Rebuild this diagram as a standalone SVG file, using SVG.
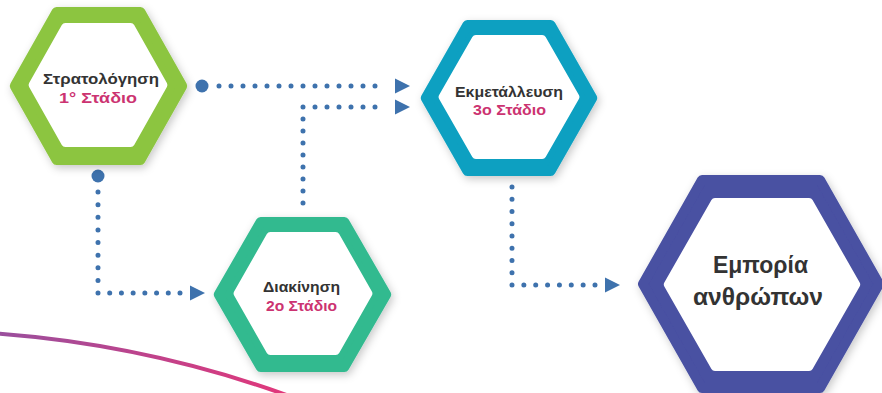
<svg xmlns="http://www.w3.org/2000/svg" width="882" height="393" viewBox="0 0 882 393">
  <defs>
    <filter id="sh" x="-20%" y="-20%" width="140%" height="140%">
      <feDropShadow dx="2" dy="3" stdDeviation="4" flood-color="#000" flood-opacity="0.22"/>
    </filter>
    <linearGradient id="curveGrad" gradientUnits="userSpaceOnUse" x1="0" y1="0" x2="290" y2="0">
      <stop offset="0" stop-color="#9a4f9d"/>
      <stop offset="1" stop-color="#e2377a"/>
    </linearGradient>
  </defs>
  <style>
    .outer { stroke-width: 10; stroke-linejoin: round; }
    .inner { fill: #ffffff; stroke: #ffffff; stroke-width: 8; stroke-linejoin: round; }
    .t { font-family: "Liberation Sans", Arial, sans-serif; font-weight: bold; text-anchor: middle; }
    .name { fill: #333333; font-size: 14px; }
    .stage { fill: #cc3371; font-size: 14px; }
    .big { fill: #333333; font-size: 23px; }
    .dots { fill: none; stroke: #3e72ad; stroke-width: 5; stroke-linecap: round; }
    .head { fill: #3e72ad; }
  </style>

  <rect width="882" height="393" fill="#ffffff"/>

  <path d="M-2 333.7 A1103 1103 0 0 1 292 397" fill="none" stroke="url(#curveGrad)" stroke-width="4"/>

  <g id="connectors">
    <circle cx="202" cy="86" r="6.5" class="head"/>
    <line x1="219" y1="86" x2="387" y2="86" class="dots" stroke-dasharray="0 12"/>
    <polygon points="395,78.5 410,86 395,93.5" class="head"/>

    <path d="M303 203 V107 H387" class="dots" stroke-dasharray="0 12"/>
    <polygon points="395,99.5 410,107 395,114.5" class="head"/>

    <circle cx="98" cy="176" r="6.5" class="head"/>
    <line x1="98" y1="192" x2="98" y2="293" class="dots" stroke-dasharray="0 12.625"/>
    <line x1="98" y1="293" x2="180" y2="293" class="dots" stroke-dasharray="0 11.714"/>
    <polygon points="190,285.5 205,293 190,300.5" class="head"/>

    <line x1="512" y1="187" x2="512" y2="285" class="dots" stroke-dasharray="0 12.25"/>
    <line x1="512" y1="285" x2="595" y2="285" class="dots" stroke-dasharray="0 11.857"/>
    <polygon points="605,277.5 620,285 605,292.5" class="head"/>
  </g>

  <g id="stage1">
    <polygon class="outer" fill="#8cc540" stroke="#8cc540" filter="url(#sh)" points="14.8,86 56.6,12 140.4,12 182.2,86 140.4,160 56.6,160"/>
    <polygon class="inner" points="32.6,85 65.3,27 130.7,27 163.4,85 130.7,143 65.3,143"/>
    <text class="t name" x="101" y="84" textLength="116" lengthAdjust="spacingAndGlyphs">Στρατολόγηση</text>
    <text class="t stage" x="98" y="103" textLength="78" lengthAdjust="spacingAndGlyphs">1° Στάδιο</text>
  </g>

  <g id="stage2">
    <polygon class="outer" fill="#32ba8f" stroke="#32ba8f" filter="url(#sh)" points="218.8,294.5 260.65,222 344.35,222 386.2,294.5 344.35,367 260.65,367"/>
    <polygon class="inner" points="237.6,293.5 270.3,236 335.7,236 368.4,293.5 335.7,351 270.3,351"/>
    <text class="t name" x="301.5" y="292" textLength="77" lengthAdjust="spacingAndGlyphs">Διακίνηση</text>
    <text class="t stage" x="301.5" y="311" textLength="71" lengthAdjust="spacingAndGlyphs">2ο Στάδιο</text>
  </g>

  <g id="stage3">
    <polygon class="outer" fill="#09a0c1" stroke="#09a0c1" filter="url(#sh)" points="425.8,98 467.4,25 550.6,25 592.2,98 550.6,171 467.4,171"/>
    <polygon class="inner" points="442.6,97 475.8,39 542.2,39 575.4,97 542.2,155 475.8,155"/>
    <text class="t name" x="509" y="97" textLength="108" lengthAdjust="spacingAndGlyphs">Εκμετάλλευση</text>
    <text class="t stage" x="509.5" y="115" textLength="73" lengthAdjust="spacingAndGlyphs">3ο Στάδιο</text>
  </g>

  <g id="trafficking">
    <polygon class="outer" fill="#4851a2" stroke="#4851a2" stroke-width="12" filter="url(#sh)" points="643,284 702,180 820,180 879,284 820,388 702,388"/>
    <polygon class="inner" points="667.8,284.5 714.9,202 809.1,202 856.2,284.5 809.1,367 714.9,367"/>
    <text class="t big" x="760.5" y="273" textLength="95" lengthAdjust="spacingAndGlyphs">Εμπορία</text>
    <text class="t big" x="758" y="305" textLength="130" lengthAdjust="spacingAndGlyphs">ανθρώπων</text>
  </g>
</svg>
